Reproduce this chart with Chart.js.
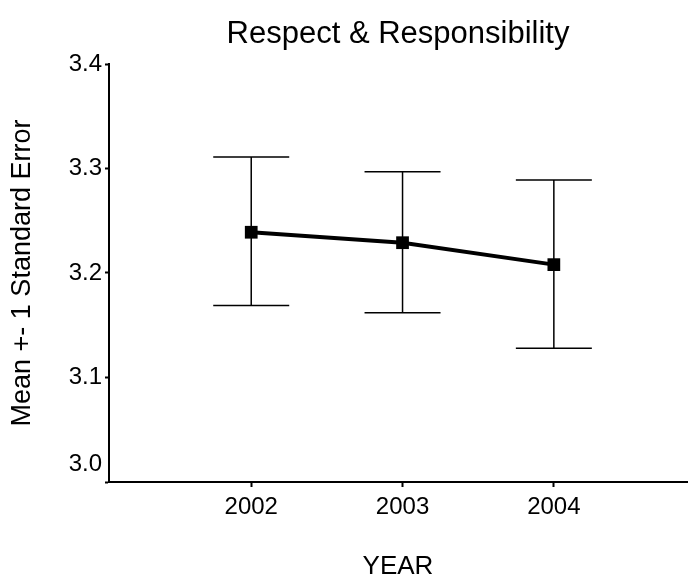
<!DOCTYPE html>
<html>
<head>
<meta charset="utf-8">
<script src="https://cdn.jsdelivr.net/npm/chart.js@4"></script>
<style>
    html, body { margin: 0; padding: 0; background: #fff; }
</style>
</head>
<body>
<canvas id="respectChart" width="696" height="584"></canvas>
<script>
    const chartTitle = 'Respect & Responsibility';
    const years = [2002, 2003, 2004];
    const means = [3.239, 3.229, 3.208];
    const upperSE = [3.311, 3.297, 3.289];
    const lowerSE = [3.169, 3.162, 3.128];
    const yTicks = [3.0, 3.1, 3.2, 3.3, 3.4];

    const fontFamily = "'Liberation Sans', Arial, sans-serif";

    // error bars, drawn through the chart's own scales
    const errorBars = {
        id: 'errorBars',
        beforeDatasetsDraw(chart) {
            const ctx = chart.ctx;
            const x = chart.scales.x;
            const y = chart.scales.y;
            const cap = 38;
            ctx.save();
            ctx.strokeStyle = '#000';
            ctx.lineWidth = 1.5;
            years.forEach(function (yr, i) {
                const px = x.getPixelForValue(yr);
                const top = y.getPixelForValue(upperSE[i]);
                const bottom = y.getPixelForValue(lowerSE[i]);
                ctx.beginPath();
                ctx.moveTo(px, top);
                ctx.lineTo(px, bottom);
                ctx.moveTo(px - cap, top);
                ctx.lineTo(px + cap, top);
                ctx.moveTo(px - cap, bottom);
                ctx.lineTo(px + cap, bottom);
                ctx.stroke();
            });
            ctx.restore();
        }
    };

    // title centred over the plot area, and the bottom y label lifted off the x axis
    const extraText = {
        id: 'extraText',
        afterDraw(chart) {
            const ctx = chart.ctx;
            const area = chart.chartArea;
            const y = chart.scales.y;
            ctx.save();
            ctx.fillStyle = '#000';
            ctx.textAlign = 'center';
            ctx.textBaseline = 'middle';
            ctx.font = '31px ' + fontFamily;
            ctx.fillText(chartTitle, (area.left + area.right) / 2, 34);
            ctx.textAlign = 'right';
            ctx.font = '24px ' + fontFamily;
            ctx.fillText(yTicks[0].toFixed(1), area.left - 7, y.getPixelForValue(yTicks[0]) - 18);
            ctx.restore();
        }
    };

    const data = {
        datasets: [{
            label: 'Mean',
            data: years.map((yr, i) => ({ x: yr, y: means[i] })),
            borderColor: '#000',
            backgroundColor: '#000',
            borderWidth: 4,
            pointStyle: 'rect',
            pointRadius: 9,
            pointBackgroundColor: '#000',
            pointBorderWidth: 0,
            tension: 0
        }]
    };

    const options = {
        responsive: false,
        animation: false,
        layout: { padding: { left: 0, right: 0, top: 64, bottom: 0 } },
        plugins: {
            legend: { display: false },
            tooltip: { enabled: false },
            title: { display: false }
        },
        scales: {
            x: {
                type: 'linear',
                min: 2001.06,
                max: 2004.88,
                afterBuildTicks(scale) {
                    scale.ticks = years.map(v => ({ value: v }));
                },
                afterFit(scale) { scale.height = 102; },
                grid: {
                    drawOnChartArea: false,
                    drawTicks: true,
                    tickLength: 5,
                    tickColor: '#000',
                    tickWidth: 2
                },
                border: { display: true, color: '#000', width: 2 },
                ticks: {
                    color: '#000',
                    font: { family: fontFamily, size: 24 },
                    padding: 6,
                    maxRotation: 0,
                    callback: v => String(v)
                },
                title: {
                    display: true,
                    text: 'YEAR',
                    color: '#000',
                    font: { family: fontFamily, size: 26 },
                    padding: { top: 0, bottom: 2 }
                }
            },
            y: {
                type: 'linear',
                min: 3.0,
                max: 3.4,
                afterBuildTicks(scale) {
                    scale.ticks = yTicks.map(v => ({ value: v }));
                },
                afterFit(scale) { scale.width = 109; },
                grid: {
                    drawOnChartArea: false,
                    drawTicks: true,
                    tickLength: 4,
                    tickColor: '#000',
                    tickWidth: 2
                },
                border: { display: true, color: '#000', width: 2 },
                ticks: {
                    color: '#000',
                    font: { family: fontFamily, size: 24 },
                    padding: 3,
                    callback: v => (v === yTicks[0] ? '' : v.toFixed(1))
                },
                title: {
                    display: true,
                    text: 'Mean +- 1 Standard Error',
                    color: '#000',
                    font: { family: fontFamily, size: 27 },
                    padding: { top: 6, bottom: 0 }
                }
            }
        }
    };

    const ctx = document.getElementById('respectChart').getContext('2d');
    new Chart(ctx, {
        type: 'line',
        data: data,
        options: options,
        plugins: [errorBars, extraText]
    });
</script>
</body>
</html>
